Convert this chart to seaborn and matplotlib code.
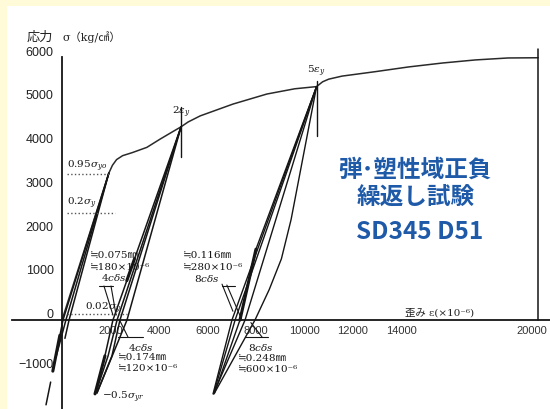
import matplotlib
matplotlib.use("Agg")
import matplotlib.pyplot as plt
import seaborn as sns

# Monotonic envelope: strain (x10^-6) and stress (kg/cm2)
envelope_strain = [0, 1930, 2080, 2250, 2500, 2900, 3500, 4050, 4600, 4910, 5200, 5700,
                   7050, 8450, 9600, 10500, 10750, 11000, 11550, 12900, 14300, 15700,
                   17050, 18400, 19640]
envelope_stress = [0, 3360, 3540, 3670, 3760, 3830, 3950, 4140, 4320, 4420, 4530, 4670,
                   4940, 5170, 5290, 5340, 5450, 5510, 5580, 5680, 5790, 5880,
                   5950, 5995, 6000]

# Reversed-cycle branches around 0.95 sigma_y
group1_strain = [[1930, 40, -380], [-470, -660], [1930, 160, -250], [1930, 290, 120]]
group1_stress = [[3360, 0, -1170], [-1420, -1940], [3360, 0, -850], [3360, 0, -420]]

# Reversed-cycle branches from 2 eps_y
group2_strain = [[4910, 2100, 1770, 1360], [4910, 2270, 1900, 1400],
                 [4910, 2390, 2060, 1440], [4910, 2680, 1440]]
group2_stress = [[4420, 0, -820, -1690], [4420, 0, -820, -1650],
                 [4420, 0, -820, -1670], [4420, 0, -1670]]

# Reversed-cycle branches from 5 eps_y
group3_strain = [[10500, 7010, 6230], [10500, 7140, 6270], [10500, 8000, 7340, 6290],
                 [10500, 7550, 6250],
                 [10500, 9450, 9050, 8550, 7960, 6270]]
group3_stress = [[5340, 0, -1690], [5340, 0, -1650], [5340, 1620, 0, -1670],
                 [5340, 0, -1690],
                 [5340, 2300, 1400, 700, 0, -1690]]

# Heavier-inked stretches of the branches
heavy_strain = [[-90, -380], [2672, 2990], [1770, 1360], [8000, 7340]]
heavy_stress = [[-350, -1170], [900, 1400], [-820, -1690], [1620, 0]]

# Reference stress levels (kg/cm2) and their dotted extents
level_stress = [3340, 2450, 140]
level_strain_end = [1950, 2190, 2680]

x_ticks = [2000, 4000, 6000, 8000, 10000, 12000, 14000, 20000]
y_ticks = [-1000, 0, 1000, 2000, 3000, 4000, 5000, 6000]
y_tick_labels = ["\u22121000", "0", "1000", "2000", "3000", "4000", "5000", "6000"]

sns.set_theme(style="white")
plt.rcParams["font.family"] = ["Liberation Sans", "Noto Sans CJK JP"]
plt.rcParams["mathtext.fontset"] = "dejavuserif"

INK = "#151515"
SERIF = ["DejaVu Serif", "Noto Sans CJK JP"]
BLUE = "#1f5aa8"

fig = plt.figure(figsize=(5.5, 4.1), dpi=100, facecolor="#FFFBD9")
ax = fig.add_axes([7 / 550, 0, 543 / 550, 403 / 410])
ax.set_facecolor("white")


def trace(xs, ys, lw=1.0, color=INK, ls="-"):
    sns.lineplot(x=xs, y=ys, ax=ax, sort=False, estimator=None,
                 color=color, lw=lw, linestyle=ls)


# envelope
trace(envelope_strain, envelope_stress, lw=1.1, color="#2a2a2a")

# cyclic loops
for xs, ys in zip(group1_strain, group1_stress):
    trace(xs, ys, lw=1.1)
for xs, ys in zip(group2_strain, group2_stress):
    trace(xs, ys, lw=1.1)
for xs, ys in zip(group3_strain, group3_stress):
    trace(xs, ys, lw=1.0)
for xs, ys in zip(heavy_strain, heavy_stress):
    trace(xs, ys, lw=2.2)

# dotted stress levels
for s, e in zip(level_stress, level_strain_end):
    trace([200, e], [s, s], lw=1.0, color="#555555", ls=":")

# markers at 2 eps_y, 5 eps_y and the end of the test
trace([4910, 4910], [3730, 4874], lw=1.0)
trace([10500, 10500], [4210, 5470], lw=1.0)
trace([19640, 19640], [0, 6200], lw=1.1)

# width brackets and leaders
trace([1530, 2100], [778, 778], lw=0.8)
trace([1730, 2100], [778, 114], lw=0.8)
trace([2020, 2230], [778, 114], lw=0.8)
trace([2310, 3340], [-389, -389], lw=0.8)
trace([2390, 2720], [-20, -389], lw=0.8)
trace([6600, 7140], [778, 778], lw=0.8)
trace([6600, 7050], [820, 200], lw=0.8)
trace([6800, 7420], [800, 0], lw=0.8)
trace([7550, 8500], [-389, -389], lw=0.8)
trace([7790, 8250], [-60, -389], lw=0.8)

# axes through the origin
ax.set_xlim(-2270, 20130)
ax.set_ylim(-2036, 7184)
for side in ("top", "right"):
    ax.spines[side].set_visible(False)
ax.spines["left"].set_position(("data", 0))
ax.spines["bottom"].set_position(("data", 0))
ax.spines["left"].set_bounds(-2036, 6020)
ax.spines["bottom"].set_bounds(-2063, 20130)
for side in ("left", "bottom"):
    ax.spines[side].set_color(INK)
    ax.spines[side].set_linewidth(1.3)

ax.set_xticks(x_ticks, labels=[str(v) for v in x_ticks])
ax.set_yticks(y_ticks, labels=y_tick_labels)
ax.tick_params(axis="x", length=0, pad=3.5, labelsize=8, labelcolor="#333333")
ax.tick_params(axis="y", length=0, pad=6, labelsize=9, labelcolor="#222222")
for lbl, v in zip(ax.get_yticklabels(), y_ticks):
    lbl.set_verticalalignment("bottom" if v >= 0 else "center")
ax.get_xticklabels()[-1].set_horizontalalignment("right")
ax.set_xlabel("")
ax.set_ylabel("")
ax.grid(False)

# axis titles
ax.text(-1444, 6500, "応力", fontsize=9.5, family=["Noto Sans CJK JP"],
        color="#222222", ha="left", va="center")
ax.text(0, 6500, "σ（kg/㎠）", fontsize=8, family=SERIF, color="#222222",
        ha="left", va="center")
ax.text(14150, 190, "歪み ε(×10⁻⁶)", fontsize=7.5, family=SERIF, color="#222222",
        ha="left", va="center")

# annotations
note = dict(fontsize=7.5, color=INK, ha="left", va="center")
ax.text(4909, 4780, r"$2\varepsilon_{y}$", fontsize=7.5, color=INK, ha="center", va="center")
ax.text(10480, 5700, r"$5\varepsilon_{y}$", fontsize=7.5, color=INK, ha="center", va="center")
ax.text(200, 3530, r"$0.95\sigma_{yo}$", **note)
ax.text(200, 2680, r"$0.2\sigma_{y}$", **note)
ax.text(950, 290, r"$0.02\sigma_{y}$", **note)
ax.text(1600, 990, r"$4c\delta s$", **note)
ax.text(2720, -595, r"$4c\delta s$", **note)
ax.text(1650, -1740, r"$-0.5\sigma_{yr}$", **note)
ax.text(5440, 970, r"$8c\delta s$", **note)
ax.text(7670, -595, r"$8c\delta s$", **note)
ax.text(1150, 1510, "≒0.075㎜", family=SERIF, **note)
ax.text(1150, 1236, "≒180×10⁻⁶", family=SERIF, **note)
ax.text(2310, -824, "≒0.174㎜", family=SERIF, **note)
ax.text(2310, -1075, "≒120×10⁻⁶", family=SERIF, **note)
ax.text(4990, 1510, "≒0.116㎜", family=SERIF, **note)
ax.text(4990, 1236, "≒280×10⁻⁶", family=SERIF, **note)
ax.text(7260, -847, "≒0.248㎜", family=SERIF, **note)
ax.text(7260, -1098, "≒600×10⁻⁶", family=SERIF, **note)

# title block
title = dict(color=BLUE, family=["Noto Sans CJK JP"], fontweight="bold",
             ha="center", va="center")
ax.text(0.752, 0.597, "弾･塑性域正負", fontsize=17, transform=ax.transAxes, **title)
ax.text(0.752, 0.528, "繰返し試験", fontsize=17, transform=ax.transAxes, **title)
ax.text(0.759, 0.441, "SD345 D51", fontsize=17.5, transform=ax.transAxes, **title)

fig.savefig("out.png", dpi=100, facecolor=fig.get_facecolor())
